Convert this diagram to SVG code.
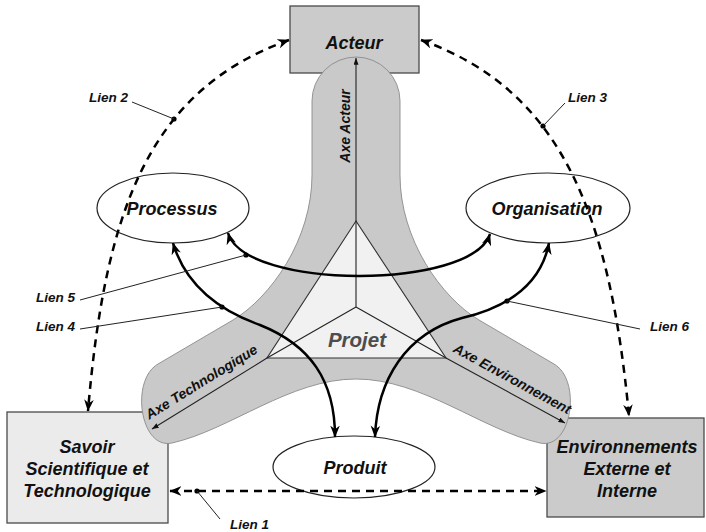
<svg xmlns="http://www.w3.org/2000/svg" width="706" height="532" viewBox="0 0 706 532">
<defs>
<style>
.lbl{font-family:"Liberation Sans",Arial,sans-serif;font-weight:bold;font-style:italic;fill:#111}
.big{font-size:18px}
.lien{font-size:13.5px}
.axe{font-size:14px}
.box{stroke:#4a4a4a;stroke-width:1.3}
.ell{fill:#fff;stroke:#222;stroke-width:1.2}
.solid{fill:none;stroke:#000;stroke-width:2.5}
.dash{fill:none;stroke:#000;stroke-width:2.5;stroke-dasharray:8 6}
.lead{fill:none;stroke:#222;stroke-width:1}
.axis{fill:none;stroke:#222;stroke-width:1.1}
.tri{fill:#f1f1f1;stroke:#333;stroke-width:1.1}
</style>
<marker id="ah" viewBox="0 0 10 8" refX="9.5" refY="4" markerWidth="12" markerHeight="10" markerUnits="userSpaceOnUse" orient="auto-start-reverse">
<path d="M0,0 L10,4 L0,8 L3,4 Z" fill="#000"/>
</marker>
<marker id="sa" viewBox="0 0 8 6" refX="8" refY="3" markerWidth="7" markerHeight="5" markerUnits="userSpaceOnUse" orient="auto-start-reverse">
<path d="M0,0 L8,3 L0,6 Z" fill="#111"/>
</marker>
</defs>
<rect x="0" y="0" width="706" height="532" fill="#fff"/>

<g id="acteur">
<rect class="box" x="290" y="6" width="129" height="67" fill="#cbcbcb"/>
<text class="lbl big" x="354" y="49" text-anchor="middle">Acteur</text>
</g>
<g id="savoir">
<rect class="box" x="7" y="412" width="161" height="111" fill="#ebebeb"/>
<text class="lbl big" x="87" y="453" text-anchor="middle">Savoir</text>
<text class="lbl big" x="87" y="475" text-anchor="middle">Scientifique et</text>
<text class="lbl big" x="87" y="497" text-anchor="middle">Technologique</text>
</g>
<g id="environnements">
<rect class="box" x="547" y="418" width="157" height="99" fill="#cbcbcb"/>
<text class="lbl big" x="627" y="453" text-anchor="middle">Environnements</text>
<text class="lbl big" x="627" y="475" text-anchor="middle">Externe et</text>
<text class="lbl big" x="627" y="497" text-anchor="middle">Interne</text>
</g>

<g id="axes-band">
<path d="M 312 175 L 312 101 A 44 44 0 0 1 400 101 L 400 175 C 400 240, 442 298, 479 320 L 554 364 C 582 380, 572 450, 540 443 C 482 430, 422 379, 356 379 C 290 379, 230 430, 172 443 C 140 450, 130 380, 158 364 L 233 320 C 270 298, 312 240, 312 175 Z" fill="#c9c9c9" stroke="#8a8a8a" stroke-width="0.9"/>
</g>

<g id="projet">
<polygon class="tri" points="356,221 267,358 446,358"/>
<path class="axis" d="M356 307 L356 221 M356 307 L267 358 M356 307 L446 358"/>
<text class="lbl" x="357" y="347" text-anchor="middle" font-size="20.5" style="fill:#4d4d4d">Projet</text>
</g>

<g id="axes">
<path class="axis" d="M356 221 L356 58" marker-end="url(#sa)"/>
<path class="axis" d="M267 358 L152 429" marker-end="url(#sa)"/>
<path class="axis" d="M446 358 L565 423" marker-end="url(#sa)"/>
<text class="lbl axe" transform="translate(350,126) rotate(-90)" text-anchor="middle">Axe Acteur</text>
<text class="lbl axe" transform="translate(204,386) rotate(-31.7)" text-anchor="middle">Axe Technologique</text>
<text class="lbl axe" transform="translate(510,383) rotate(28.6)" text-anchor="middle">Axe Environnement</text>
</g>

<g id="processus">
<ellipse class="ell" cx="173" cy="208" rx="76" ry="35"/>
<text class="lbl big" x="172" y="215" text-anchor="middle">Processus</text>
</g>
<g id="organisation">
<ellipse class="ell" cx="548" cy="208" rx="82" ry="35"/>
<text class="lbl big" x="547" y="215" text-anchor="middle">Organisation</text>
</g>
<g id="produit">
<ellipse class="ell" cx="354" cy="467" rx="81" ry="31"/>
<text class="lbl big" x="355" y="474" text-anchor="middle">Produit</text>
</g>

<g id="connectors">
<path class="dash" d="M 289 40 C 149 90, 105 210, 88 411" marker-start="url(#ah)" marker-end="url(#ah)"/>
<path class="dash" d="M 421 40 C 562 90, 610 215, 629 416" marker-start="url(#ah)" marker-end="url(#ah)"/>
<path class="dash" d="M 170 491 L 546 491" marker-start="url(#ah)" marker-end="url(#ah)"/>
<path class="solid" d="M 228 233 C 245 290, 472 290, 490 234" marker-start="url(#ah)" marker-end="url(#ah)"/>
<path class="solid" d="M 173 243 Q 190 300 260 325 C 310 345, 335 380, 335 437" marker-start="url(#ah)" marker-end="url(#ah)"/>
<path class="solid" d="M 549 243 Q 538 300 462 318 C 406 333, 377 380, 375 437" marker-start="url(#ah)" marker-end="url(#ah)"/>
<g fill="#000">
<circle cx="174" cy="119" r="2.6"/>
<circle cx="543" cy="126" r="2.6"/>
<circle cx="246" cy="255" r="2.6"/>
<circle cx="222" cy="307" r="2.6"/>
<circle cx="507" cy="301" r="2.6"/>
<circle cx="197" cy="491" r="2.6"/>
</g>
<path class="lead" d="M132 102 L174 119 M565 103 L543 126 M80 300 L246 255 M80 329 L222 307 M640 329 L507 301 M197 491 L220 519"/>
<text class="lbl lien" x="89" y="102">Lien 2</text>
<text class="lbl lien" x="568" y="102">Lien 3</text>
<text class="lbl lien" x="36" y="302">Lien 5</text>
<text class="lbl lien" x="36" y="331">Lien 4</text>
<text class="lbl lien" x="650" y="331">Lien 6</text>
<text class="lbl lien" x="230" y="529">Lien 1</text>
</g>
</svg>
